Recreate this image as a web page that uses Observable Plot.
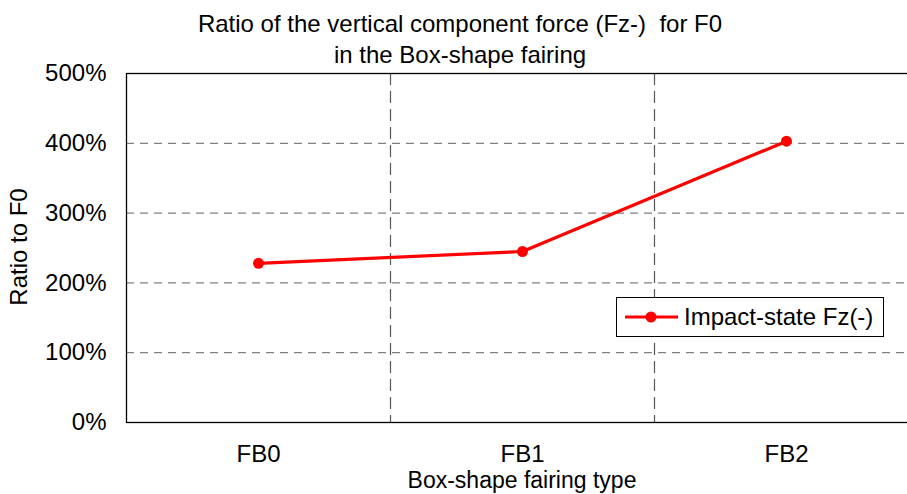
<!DOCTYPE html>
<html>
<head>
<meta charset="utf-8">
<script src="https://cdn.jsdelivr.net/npm/d3@7"></script>
<script src="https://cdn.jsdelivr.net/npm/@observablehq/plot@0.6"></script>
<style>
  html, body { margin: 0; padding: 0; background: #fff; overflow: hidden; }
  #wrap { position: relative; width: 907px; height: 494px; font-family: "Liberation Sans", Arial, sans-serif; color: #000; }
  .t { position: absolute; white-space: nowrap; font-size: 24px; line-height: 1; }
  #title1 { left: 0; width: 920px; text-align: center; top: 12px; }
  #title2 { left: 0; width: 920px; text-align: center; top: 43px; }
  #xlabel { left: 0; width: 1044px; text-align: center; top: 469px; font-size: 23px; }
  #ylabel { left: 19px; top: 247px; transform: translate(-50%, -50%) rotate(-90deg); }
  #legend { position: absolute; left: 616px; top: 297px; width: 266px; height: 38px; border: 1px solid #000; background: #fff; display: flex; align-items: center; }
  #legend svg { margin-left: 7px; }
  #legend span { font-size: 24px; margin-left: 5px; }
  #chart { position: absolute; left: 0; top: 0; }
</style>
</head>
<body>
<div id="wrap">
  <div id="chart"></div>
  <div class="t" id="title1"></div>
  <div class="t" id="title2"></div>
  <div class="t" id="xlabel"></div>
  <div class="t" id="ylabel"></div>
  <div id="legend"></div>
</div>
<script>
const titleLines = ["Ratio of the vertical component force (Fz-)\u00a0 for F0", "in the Box-shape fairing"];
const xTitle = "Box-shape fairing type";
const yTitle = "Ratio to F0";
const categories = ["FB0", "FB1", "FB2"];
const values = [2.28, 2.45, 4.03];   // ratio to F0 (1 = 100%)
const yTicks = [0, 1, 2, 3, 4, 5];
const seriesName = "Impact-state Fz(-)";

const data = categories.map((c, i) => ({i, c, v: values[i]}));
const boundaries = categories.slice(1).map((_, i) => i + 0.5);

document.getElementById("title1").textContent = titleLines[0];
document.getElementById("title2").textContent = titleLines[1];
document.getElementById("xlabel").textContent = xTitle;
document.getElementById("ylabel").textContent = yTitle;

const chart = Plot.plot({
  width: 907,
  height: 494,
  marginLeft: 126,
  marginRight: -11,
  marginTop: 73,
  marginBottom: 72,
  style: {fontFamily: "'Liberation Sans', Arial, sans-serif", fontSize: "24px", color: "#000", background: "transparent", overflow: "hidden"},
  x: {domain: [-0.5, categories.length - 0.5], axis: null},
  y: {domain: [0, 5], axis: null},
  marks: [
    Plot.ruleY(yTicks.slice(1, -1), {stroke: "#7f7f7f", strokeWidth: 1.3, strokeDasharray: "8,6"}),
    Plot.ruleX(boundaries, {stroke: "#555", strokeWidth: 1.2, strokeDasharray: "12,6"}),
    Plot.frame({stroke: "#000", strokeWidth: 1.3}),
    Plot.axisY(yTicks, {tickSize: 0, tickPadding: 20, tickFormat: d => (d * 100) + "%", fontSize: 24, label: null}),
    Plot.axisX(categories.map((_, i) => i), {tickSize: 0, tickPadding: 22, tickFormat: i => categories[i], fontSize: 24, label: null}),
    Plot.line(data, {x: "i", y: "v", stroke: "#ff0000", strokeWidth: 3.2}),
    Plot.dot(data, {x: "i", y: "v", fill: "#ff0000", r: 5.5})
  ]
});
document.getElementById("chart").appendChild(chart);

const leg = document.getElementById("legend");
leg.innerHTML = `<svg width="55" height="14"><line x1="1" y1="7" x2="54" y2="7" stroke="#ff0000" stroke-width="3.2"/><circle cx="27" cy="7" r="5.5" fill="#ff0000"/></svg><span></span>`;
leg.querySelector("span").textContent = seriesName;
</script>
</body>
</html>
